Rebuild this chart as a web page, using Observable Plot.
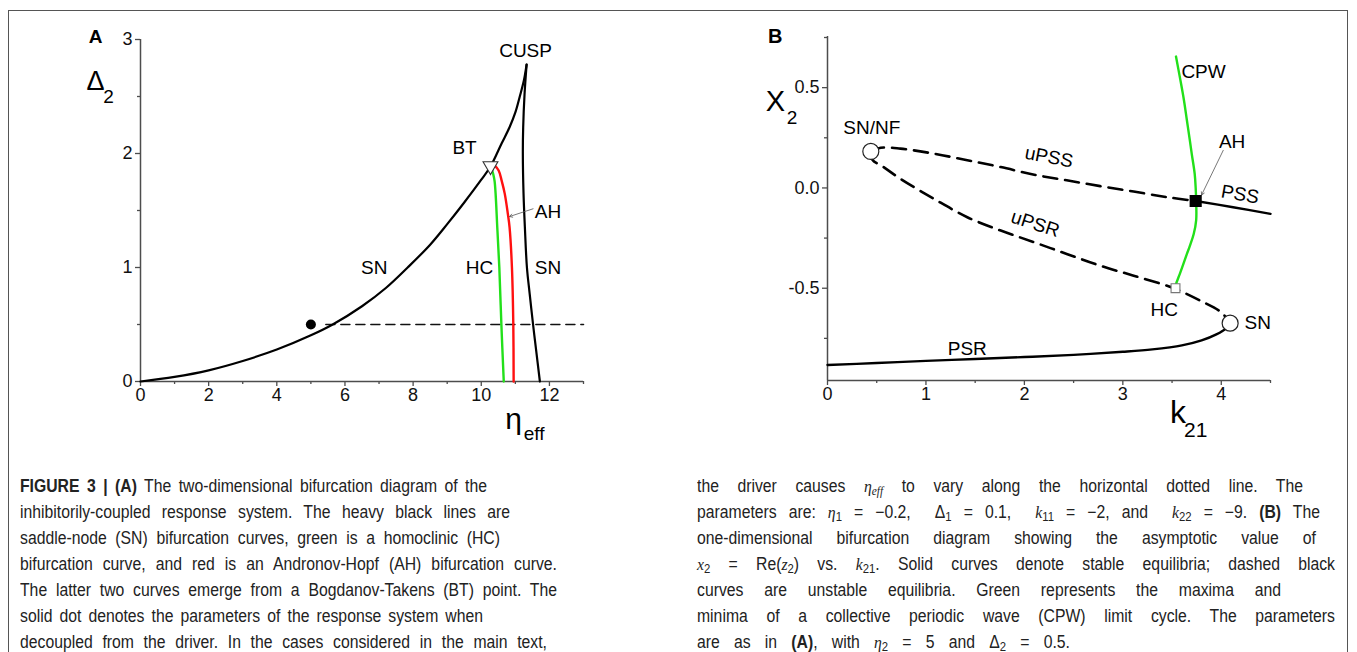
<!DOCTYPE html>
<html><head><meta charset="utf-8">
<script src="https://cdn.jsdelivr.net/npm/d3@7"></script>
<script src="https://cdn.jsdelivr.net/npm/@observablehq/plot@0.6"></script>
<style>
body{margin:0;background:#fff;width:1357px;height:652px;overflow:hidden;position:relative;font-family:"Liberation Sans",Arial,sans-serif;}
#frame{position:absolute;left:8px;top:10px;width:1340px;height:720px;border:1.5px solid #555;box-sizing:border-box;}
#pa{position:absolute;left:0;top:0}
#pb{position:absolute;left:680px;top:0}
.ln{position:absolute;font-family:"Liberation Sans",Arial,sans-serif;font-size:17.5px;line-height:26px;height:26px;text-align:justify;text-align-last:justify;color:#222;white-space:normal;overflow:visible;transform-origin:0 0}
.ln sub{font-size:0.72em;vertical-align:-0.2em;line-height:0}
.m{font-family:"Liberation Serif",serif;font-style:italic}
</style></head>
<body>
<div id="frame"></div>
<div id="pa"></div>
<div id="pb"></div>
<div id="cap"></div>
<script>
// ---------- Panel A data ----------
const aXTicks = [0, 2, 4, 6, 8, 10, 12];
const aXMinor = [1, 3, 5, 7, 9, 11, 13];
const aYTicks = [0, 1, 2, 3];
const aYMinor = [0.5, 1.5, 2.5];

const snLeftEta   = [0, 1, 2, 3, 4, 5, 5.64, 6.5, 7.2, 7.84, 8.5, 9.0, 9.5, 10.0, 10.27, 10.6, 10.83, 11.0, 11.13, 11.25, 11.33];
const snLeftDelta = [0, 0.04, 0.098, 0.18, 0.28, 0.405, 0.5, 0.66, 0.82, 1.0, 1.2, 1.38, 1.57, 1.77, 1.886, 2.09, 2.23, 2.36, 2.5, 2.64, 2.78];

const snRightEta   = [11.33, 11.27, 11.23, 11.22, 11.24, 11.28, 11.34, 11.42, 11.52, 11.6, 11.72];
const snRightDelta = [2.78, 2.52, 2.23, 2.0, 1.65, 1.35, 1.0, 0.77, 0.5, 0.3, 0.0];

const hcEta   = [10.3, 10.35, 10.39, 10.42, 10.47, 10.53, 10.59, 10.66];
const hcDelta = [1.87, 1.82, 1.76, 1.65, 1.35, 1.0, 0.5, 0.0];

const ahEta   = [10.39, 10.51, 10.6, 10.69, 10.78, 10.83, 10.9, 10.94, 10.95];
const ahDelta = [1.895, 1.851, 1.76, 1.646, 1.471, 1.354, 1.0, 0.5, 0.0];

const dashEta = [5.44, 13];
const dashDelta = [0.5, 0.5];

const dotEta = [5.0], dotDelta = [0.5];
const btEta = [10.27], btDelta = [1.89];

const aLabelText  = ["CUSP", "BT", "AH", "SN", "HC", "SN"];
const aLabelEta   = [11.3, 9.51, 11.96, 6.86, 9.95, 11.96];
const aLabelDelta = [2.9, 2.05, 1.485, 1.0, 1.0, 1.0];

const aArrow = {x1: [11.52], y1: [1.515], x2: [10.83], y2: [1.447]};

// ---------- Panel B data ----------
const bXTicks = [0, 1, 2, 3, 4];
const bXMinor = [0.5, 1.5, 2.5, 3.5, 4.5];
const bYTicks = [-0.5, 0.0, 0.5];
const bYMinor = [-0.75, -0.25, 0.25, 0.75];

const upssK  = [0.44, 0.54, 0.74, 1.08, 1.42, 1.76, 2.10, 2.43, 2.77, 3.11, 3.45, 3.74];
const upssX2 = [0.182, 0.20, 0.196, 0.171, 0.138, 0.104, 0.066, 0.038, 0.009, -0.018, -0.046, -0.065];

const pssK  = [3.74, 4.12, 4.5];
const pssX2 = [-0.065, -0.096, -0.129];

const upsrK  = [0.44, 0.456, 0.57, 0.74, 1.08, 1.42, 1.76, 2.10, 2.43, 2.77, 3.11, 3.45, 3.54, 3.79, 4.0, 4.09];
const upsrX2 = [0.182, 0.141, 0.104, 0.046, -0.054, -0.146, -0.2125, -0.271, -0.329, -0.3875, -0.4375, -0.4875, -0.504, -0.5625, -0.62, -0.674];

const psrK  = [0, 0.5, 1, 1.5, 2, 2.5, 3, 3.3, 3.6, 3.8, 3.95, 4.05, 4.09];
const psrX2 = [-0.883, -0.873, -0.862, -0.853, -0.843, -0.832, -0.817, -0.805, -0.785, -0.76, -0.73, -0.70, -0.674];

const cpwK  = [3.54, 3.58, 3.62, 3.65, 3.68, 3.70, 3.73, 3.74, 3.745, 3.745, 3.72, 3.68, 3.65, 3.60, 3.57, 3.54, 3.535];
const cpwX2 = [0.655, 0.55, 0.44, 0.34, 0.24, 0.17, 0.07, 0.0, -0.07, -0.16, -0.23, -0.29, -0.33, -0.40, -0.44, -0.48, -0.50];

const circK = [0.44, 4.09], circX2 = [0.182, -0.674];
const ahSqK = [3.74], ahSqX2 = [-0.065];
const hcSqK = [3.535], hcSqX2 = [-0.50];

const bLabelText = ["CPW", "SN/NF", "uPSS", "AH", "PSS", "uPSR", "HC", "SN", "PSR"];
const bLabelK    = [3.82, 0.45, 2.25, 4.11, 4.19, 2.11, 3.42, 4.37, 1.42];
const bLabelX2   = [0.577, 0.30, 0.154, 0.229, -0.0325, -0.179, -0.609, -0.674, -0.804];
const bLabelRot  = [0, 0, 11, 0, 10, 18, 0, 0, 0];

const bArrow = {x1: [4.02], y1: [0.1875], x2: [3.8], y2: [-0.035]};

// ---------- helpers ----------
const pts = (xs, ys) => xs.map((x, i) => ({x, y: ys[i]}));
const axisColor = "#4d4d4d";
const FONT = "Liberation Sans, Arial, sans-serif";
const fmtInt = d => String(d);

// ---------- Panel A ----------
const plotA = Plot.plot({
  width: 680, height: 460,
  marginLeft: 140, marginRight: 97, marginTop: 39, marginBottom: 79,
  x: {domain: [0, 13], label: null},
  y: {domain: [0, 3], label: null},
  style: {fontFamily: FONT, fontSize: "18px", color: "#000", background: "transparent", overflow: "visible"},
  marks: [
    Plot.axisX({ticks: aXMinor, tickSize: 3, tickFormat: () => "", stroke: axisColor, strokeWidth: 1.3, label: null}),
    Plot.axisX({ticks: aXTicks, tickSize: 5, tickPadding: 2, tickFormat: fmtInt, stroke: axisColor, strokeWidth: 1.3, fill: "#111", label: null, fontSize: 18}),
    Plot.axisY({ticks: aYMinor, tickSize: 3, tickFormat: () => "", stroke: axisColor, strokeWidth: 1.3, label: null}),
    Plot.axisY({ticks: aYTicks, tickSize: 5, tickPadding: 3, tickFormat: fmtInt, stroke: axisColor, strokeWidth: 1.3, fill: "#111", label: null, fontSize: 18}),
    Plot.ruleX([0], {stroke: axisColor, strokeWidth: 1.5}),
    Plot.ruleY([0], {stroke: axisColor, strokeWidth: 1.5}),
    Plot.line(pts(dashEta, dashDelta), {x: "x", y: "y", stroke: "#111", strokeWidth: 1.6, strokeDasharray: "9,6"}),
    Plot.line(pts(hcEta, hcDelta), {x: "x", y: "y", stroke: "#22e01a", strokeWidth: 2.4, curve: "catmull-rom"}),
    Plot.line(pts(ahEta, ahDelta), {x: "x", y: "y", stroke: "#ff1010", strokeWidth: 2.4, curve: "catmull-rom"}),
    Plot.line(pts(snLeftEta, snLeftDelta), {x: "x", y: "y", stroke: "#000", strokeWidth: 2.2, curve: "catmull-rom"}),
    Plot.line(pts(snRightEta, snRightDelta), {x: "x", y: "y", stroke: "#000", strokeWidth: 2.2, curve: "catmull-rom"}),
    Plot.arrow(aArrow.x1, {x1: aArrow.x1, y1: aArrow.y1, x2: aArrow.x2, y2: aArrow.y2, stroke: "#555", strokeWidth: 0.8, headLength: 6}),
    Plot.dot(pts(dotEta, dotDelta), {x: "x", y: "y", r: 5, fill: "#000", stroke: "none"}),
    Plot.dot(pts(btEta, btDelta), {x: "x", y: "y", symbol: "triangle", rotate: 180, r: 5.5, fill: "#fff", stroke: "#333", strokeWidth: 1.1}),
    Plot.text(aLabelText, {x: aLabelEta, y: aLabelDelta, text: d => d, fontSize: 19, fill: "#000"}),
    Plot.text(["A"], {x: [-1.32], y: [3.02], text: d => d, fontSize: 19, fontWeight: "bold", fill: "#000"}),
    Plot.text(["Δ"], {x: [-1.32], y: [2.63], text: d => d, fontSize: 27, fill: "#000"}),
    Plot.text(["2"], {x: [-0.94], y: [2.50], text: d => d, fontSize: 19, fill: "#000"}),
    Plot.text(["η"], {x: [10.95], y: [-0.33], text: d => d, fontSize: 30, fill: "#000"}),
    Plot.text(["eff"], {x: [11.55], y: [-0.46], text: d => d, fontSize: 19, fill: "#000"})
  ]
});
document.getElementById("pa").appendChild(plotA);

// ---------- Panel B ----------
const plotB = Plot.plot({
  width: 677, height: 460,
  marginLeft: 147, marginRight: 87, marginTop: 36, marginBottom: 80,
  x: {domain: [0, 4.5], label: null},
  y: {domain: [-0.96, 0.755], label: null},
  style: {fontFamily: FONT, fontSize: "18px", color: "#000", background: "transparent", overflow: "visible"},
  marks: [
    Plot.axisX({ticks: bXMinor, tickSize: 3, tickFormat: () => "", stroke: axisColor, strokeWidth: 1.3, label: null}),
    Plot.axisX({ticks: bXTicks, tickSize: 5, tickPadding: 2, tickFormat: fmtInt, stroke: axisColor, strokeWidth: 1.3, fill: "#111", label: null, fontSize: 18}),
    Plot.axisY({ticks: bYMinor, tickSize: 3, tickFormat: () => "", stroke: axisColor, strokeWidth: 1.3, label: null}),
    Plot.axisY({ticks: bYTicks, tickSize: 5, tickPadding: 3, tickFormat: d => d.toFixed(1), stroke: axisColor, strokeWidth: 1.3, fill: "#111", label: null, fontSize: 18}),
    Plot.ruleX([0], {stroke: axisColor, strokeWidth: 1.5}),
    Plot.ruleY([-0.96], {stroke: axisColor, strokeWidth: 1.5}),
    Plot.line(pts(upssK, upssX2), {x: "x", y: "y", stroke: "#000", strokeWidth: 2.6, strokeDasharray: "14,8", curve: "catmull-rom"}),
    Plot.line(pts(upsrK, upsrX2), {x: "x", y: "y", stroke: "#000", strokeWidth: 2.6, strokeDasharray: "14,8", curve: "catmull-rom"}),
    Plot.line(pts(pssK, pssX2), {x: "x", y: "y", stroke: "#000", strokeWidth: 2.4, curve: "catmull-rom"}),
    Plot.line(pts(psrK, psrX2), {x: "x", y: "y", stroke: "#000", strokeWidth: 2.4, curve: "catmull-rom"}),
    Plot.line(pts(cpwK, cpwX2), {x: "x", y: "y", stroke: "#22e01a", strokeWidth: 2.4, curve: "catmull-rom"}),
    Plot.arrow(bArrow.x1, {x1: bArrow.x1, y1: bArrow.y1, x2: bArrow.x2, y2: bArrow.y2, stroke: "#555", strokeWidth: 0.8, headLength: 6}),
    Plot.dot(pts(circK, circX2), {x: "x", y: "y", r: 8, fill: "#fff", stroke: "#222", strokeWidth: 1.2}),
    Plot.dot(pts(hcSqK, hcSqX2), {x: "x", y: "y", symbol: "square", r: 5, fill: "#fff", stroke: "#777", strokeWidth: 1.1}),
    Plot.dot(pts(ahSqK, ahSqX2), {x: "x", y: "y", symbol: "square", r: 6, fill: "#000", stroke: "#000"}),
    Plot.text(bLabelText, {x: bLabelK, y: bLabelX2, text: d => d, rotate: bLabelRot, fontSize: 19, fill: "#000"}),
    Plot.text(["B"], {x: [-0.53], y: [0.753], text: d => d, fontSize: 20, fontWeight: "bold", fill: "#000"}),
    Plot.text(["X"], {x: [-0.53], y: [0.43], text: d => d, fontSize: 29, fill: "#000"}),
    Plot.text(["2"], {x: [-0.36], y: [0.35], text: d => d, fontSize: 19, fill: "#000"}),
    Plot.text(["k"], {x: [3.56], y: [-1.12], text: d => d, fontSize: 32, fill: "#000"}),
    Plot.text(["21"], {x: [3.74], y: [-1.21], text: d => d, fontSize: 21, fill: "#000"})
  ]
});
document.getElementById("pb").appendChild(plotB);

// ---------- Caption ----------
const capLeft = [
  "<b>FIGURE 3 | (A)</b> The two-dimensional bifurcation diagram of the",
  "inhibitorily-coupled response system. The heavy black lines are",
  "saddle-node (SN) bifurcation curves, green is a homoclinic (HC)",
  "bifurcation curve, and red is an Andronov-Hopf (AH) bifurcation curve.",
  "The latter two curves emerge from a Bogdanov-Takens (BT) point. The",
  "solid dot denotes the parameters of the response system when",
  "decoupled from the driver. In the cases considered in the main text,"
];
const capLeftEnd = [487, 510, 500, 557, 557, 483, 547];
const capRight = [
  "the driver causes <span class='m'>η<sub>eff</sub></span> to vary along the horizontal dotted line. The",
  "parameters are: <span class='m'>η</span><sub>1</sub> = −0.2, &nbsp;Δ<sub>1</sub> = 0.1, &nbsp;<span class='m'>k</span><sub>11</sub> = −2, and &nbsp;<span class='m'>k</span><sub>22</sub> = −9. <b>(B)</b> The",
  "one-dimensional bifurcation diagram showing the asymptotic value of",
  "<span class='m'>x</span><sub>2</sub> = Re(<span class='m'>z</span><sub>2</sub>) vs. <span class='m'>k</span><sub>21</sub>. Solid curves denote stable equilibria; dashed black",
  "curves are unstable equilibria. Green represents the maxima and",
  "minima of a collective periodic wave (CPW) limit cycle. The parameters",
  "are as in <b>(A)</b>, with <span class='m'>η</span><sub>2</sub> = 5 and Δ<sub>2</sub> = 0.5."
];
const capRightEnd = [1303, 1320, 1316, 1335, 1281, 1335, 1070];
const SX = 0.9;
const cap = document.getElementById("cap");
function addLines(lines, ends, left) {
  lines.forEach((h, i) => {
    const d = document.createElement("div");
    d.className = "ln";
    d.style.left = left + "px";
    d.style.top = (473 + 26 * i) + "px";
    d.style.width = ((ends[i] - left) / SX) + "px";
    d.style.transform = "scaleX(" + SX + ")";
    d.innerHTML = h;
    cap.appendChild(d);
  });
}
addLines(capLeft, capLeftEnd, 20);
addLines(capRight, capRightEnd, 697);
</script>
</body></html>
